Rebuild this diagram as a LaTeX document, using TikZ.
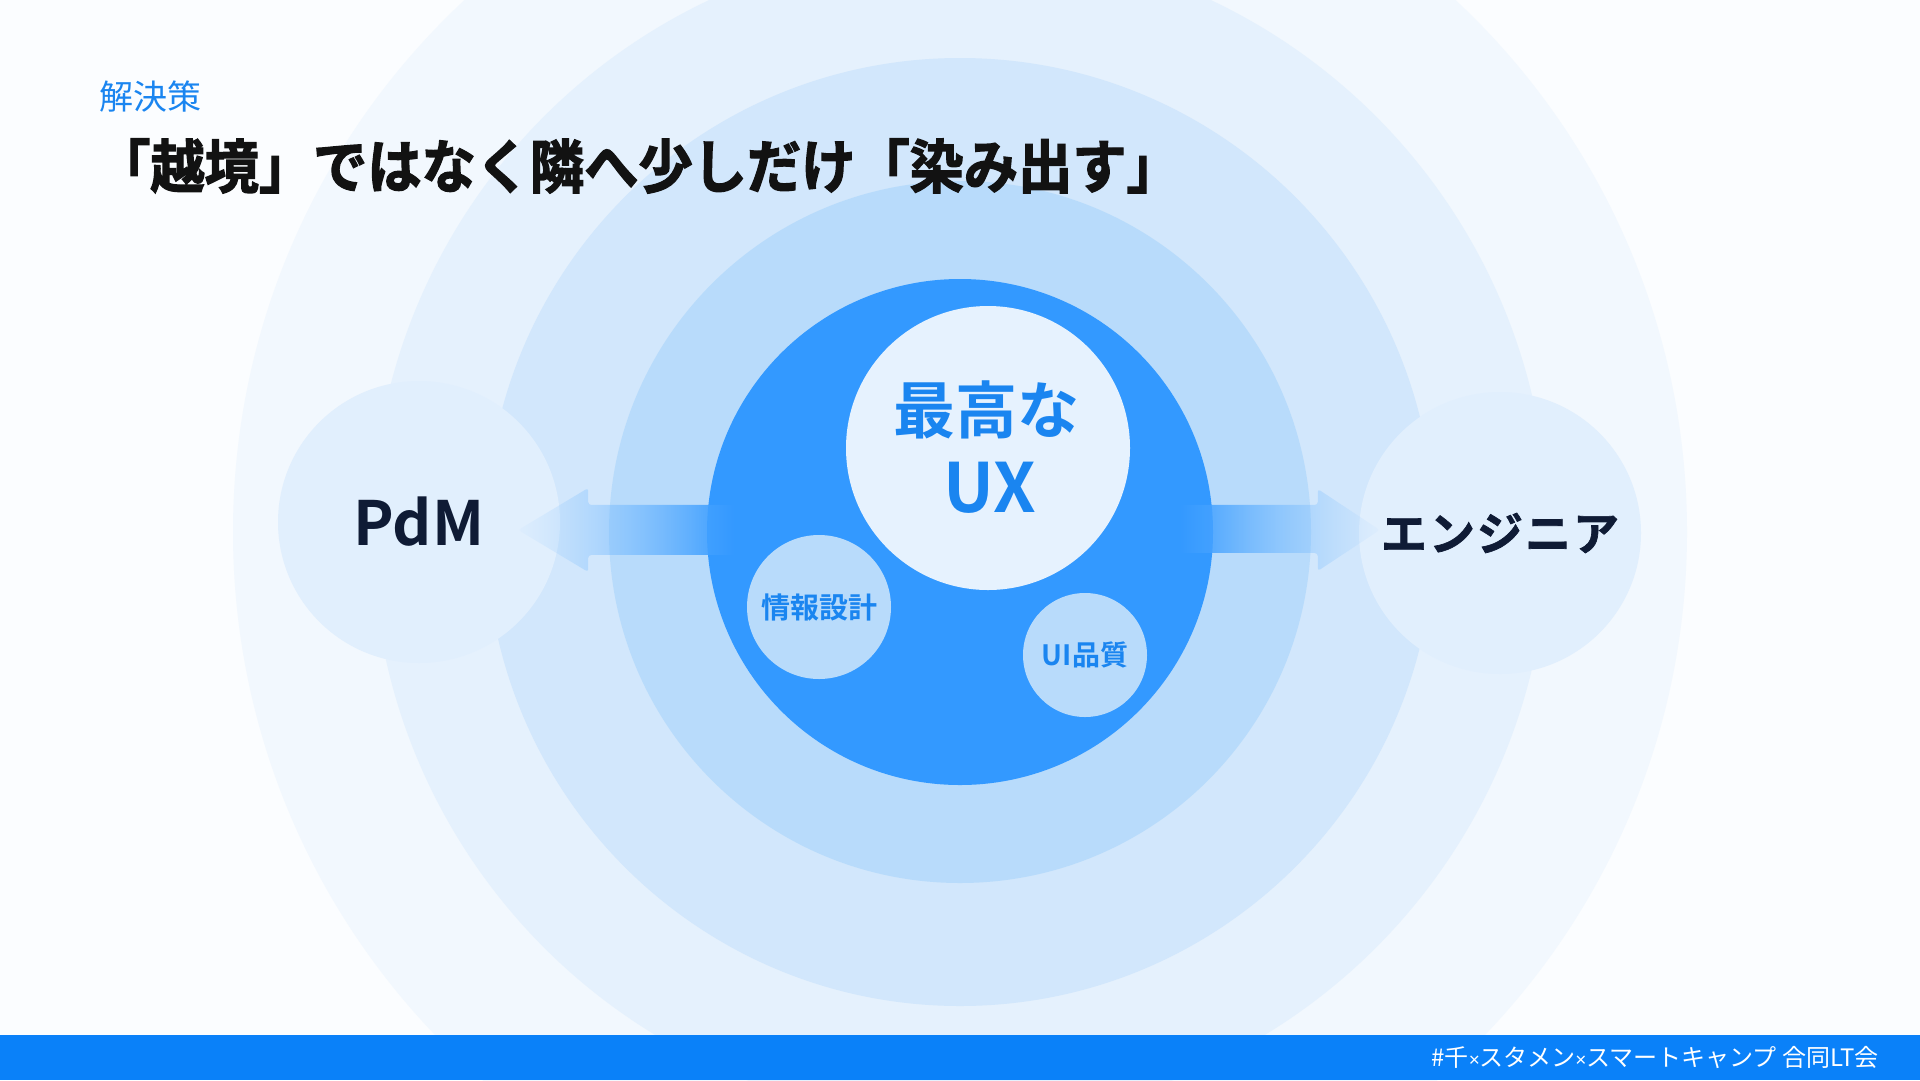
\documentclass[tikz,border=0pt]{standalone}
\usepackage{fontspec}
\usepackage{xcolor}
\usepackage{tikz}
\usetikzlibrary{positioning,calc,fadings}

\newfontfamily\jpfont{Noto Sans CJK JP}
\newfontfamily\jpbold{Noto Sans CJK JP Bold}
\newfontfamily\jptitle{Noto Sans CJK JP Bold}[FakeBold=2.2, FakeStretch=0.935]
\newfontfamily\jpheavy{Noto Sans CJK JP Bold}[FakeBold=1.5]
\newfontfamily\latinfont{Liberation Sans}
\newcommand\smalltimes{{\latinfont\fontsize{19}{24}\selectfont ×}}

\definecolor{bgpale}{HTML}{FBFDFF}
\definecolor{ringA}{HTML}{F2F8FE}
\definecolor{ringB}{HTML}{E5F1FD}
\definecolor{ringC}{HTML}{D2E7FC}
\definecolor{ringD}{HTML}{B8DBFB}
\definecolor{coreblue}{HTML}{3399FF}
\definecolor{flowpale}{HTML}{9FD0FF}
\definecolor{uxwhite}{HTML}{E6F2FE}
\definecolor{rolefill}{HTML}{E1EFFD}
\definecolor{textblue}{HTML}{1A85F0}
\definecolor{navy}{HTML}{0F1B35}
\definecolor{barblue}{HTML}{0A81F9}

\tikzfading[name=fadeleft, left color=transparent!95, middle color=transparent!25, right color=transparent!0]
\tikzfading[name=faderight, left color=transparent!0, middle color=transparent!25, right color=transparent!95]

\begin{document}
\begin{tikzpicture}[x=1pt, y=-1pt,
    ring/.style={circle, inner sep=0pt, minimum size=#1},
    role/.style={circle, inner sep=0pt, minimum size=282pt, fill=rolefill},
    sub/.style={circle, inner sep=0pt, fill=ringD, text=textblue},
    flow/.style={rounded corners=3pt}]

    \clip (0,0) rectangle (1920,1080);
    \fill[bgpale] (0,0) rectangle (1920,1080);

    % rings round the core
    \node[ring=1454pt, fill=ringA] (ringa) at (960,532) {};
    \node[ring=1176pt, fill=ringB] (ringb) at (960,532) {};
    \node[ring=948pt, fill=ringC] (ringc) at (960,532) {};
    \node[ring=702pt, fill=ringD] (ringd) at (960,532) {};
    \node[ring=506pt, fill=coreblue] (core) at (960,532) {};

    % roles on both sides
    \node[role, font=\jpbold\fontsize{61}{70}\selectfont, text=navy] (pdm) at (419,522) {PdM};
    \node[role, font=\jpheavy\fontsize{46}{54}\selectfont, text=navy] (eng) at (1500,533)
        {エ\hspace{2pt}ン\hspace{2pt}ジ\hspace{2pt}ニ\hspace{2pt}ア};

    % fading arrows
    \coordinate (ltip) at ($(pdm.east)+(-42,8)$);
    \coordinate (rtip) at ($(eng.west)+(21,-3)$);
    \shade[flow, left color=flowpale, right color=coreblue, path fading=fadeleft]
        (ltip) -- ++(70,-42) -- ++(0,17) -- ++(148,0)
        -- ++(0,50) -- ++(-148,0) -- ++(0,17) -- cycle;
    \shade[flow, left color=coreblue, right color=flowpale, path fading=faderight]
        (rtip) -- ++(-62,-41) -- ++(0,16) -- ++(-140,0)
        -- ++(0,48) -- ++(140,0) -- ++(0,18) -- cycle;

    % the core
    \node[circle, inner sep=0pt, minimum size=284pt, fill=uxwhite] (ux) at (988,448) {};
    \node[font=\jpbold\fontsize{62}{70}\selectfont, text=textblue] (best) at (986,410) {最高な};
    \node[font=\jpbold\fontsize{68}{76}\selectfont, text=textblue] (uxlabel) at (990,488) {UX};
    \node[sub, minimum size=144pt, font=\jpbold\fontsize{29}{34}\selectfont] (infoarch) at (819,607) {情報設計};
    \node[sub, minimum size=124pt, font=\jpbold\fontsize{28}{34}\selectfont] (uiq) at (1085,655) {UI品質};

    % headings
    \node[anchor=west, font=\jpfont\fontsize{34}{40}\selectfont, text=textblue] (kicker) at (96,97) {解決策};
    \node[anchor=west, inner sep=0pt, font=\jptitle\fontsize{58}{64}\selectfont, text=black!93] (title) at (96,166)
        {「越境」ではなく隣へ少しだけ「染み出す」};

    % footer bar
    \fill[barblue] (0,1035) rectangle (1920,1080);
    \node[anchor=east, font=\jpfont\fontsize{24}{30}\selectfont, text=white] (tag) at (1882,1057)
        {\#千\smalltimes スタメン\smalltimes スマートキャンプ 合同LT会};
\end{tikzpicture}
\end{document}
